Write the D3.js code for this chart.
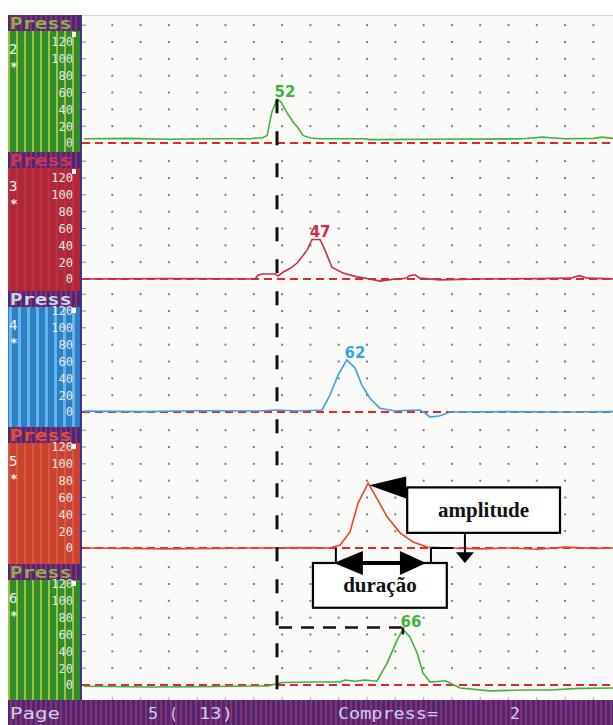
<!DOCTYPE html>
<html>
<head>
<meta charset="utf-8">
<script src="https://cdn.jsdelivr.net/npm/d3@7"></script>
<style>
  body { margin: 0; background: #fff; }
  svg { display: block; }
</style>
</head>
<body>
<div id="chart"></div>
<script>
// channels shown top to bottom
const channels = ["2", "3", "4", "5", "6"];
const yTicks = [0, 20, 40, 60, 80, 100, 120];
const gridRows = [20, 40, 60, 80, 100, 120, 140];
const gridCols = d3.range(1, 19);
const peakLabels = ["52", "47", "62", null, "66"];

// pressure traces: [time (grid units), pressure]
const trace2 = [[0,5],[1.5,5.5],[3,4.5],[4.5,5],[5.9,5],[6.1,6],[6.3,6],[6.47,9],[6.64,37],[6.82,52],[6.96,49],[7.17,36],[7.39,25],[7.56,18],[7.74,9],[8.0,6],[8.35,5],[9.2,5],[9.93,5],[10.1,4],[12,4.5],[15.5,5],[16.2,7],[16.6,6],[17,5],[18,5.5],[18.3,7],[18.8,5]];
const trace3 = [[0,0],[3,0.5],[6.04,0],[6.15,4.5],[6.29,6],[6.75,6],[6.86,3.5],[7.03,8],[7.3,13],[7.53,19],[7.88,34],[8.06,47],[8.34,47],[8.52,34],[8.76,14],[9.15,7],[9.65,2.5],[10.1,0],[10.46,-2.5],[11,0],[11.34,0.5],[11.52,4],[11.7,5],[11.87,1],[12.58,-1],[14,0],[16,0.5],[17.2,1],[17.5,4],[17.8,1],[18.8,0]];
const trace4 = [[0,1],[2,0.5],[4,1.5],[6.22,1.2],[6.75,2.4],[7.63,1.2],[8.41,2.4],[8.69,20],[8.98,44],[9.29,62],[9.58,52],[9.82,32],[10.11,16],[10.46,4.5],[10.99,1.2],[11.5,2],[11.87,2.4],[12.05,-1.2],[12.23,-6],[12.58,-4.5],[12.93,0],[15,0.5],[17,0],[18.8,0.5]];
const trace5 = [[0,0],[3,-1],[6,0],[8,0.5],[8.69,0],[9.05,3.5],[9.4,19],[9.68,53],[10.04,77],[10.35,59],[10.71,37],[11.17,18],[11.63,7],[12.12,1.2],[12.93,0],[14,-1],[15,0],[16,-1.5],[17,1],[18,-0.5],[18.8,0]];
const trace6 = [[0,-1.5],[2.33,-2.4],[4,-2],[6.5,-1],[7,3],[8,3.5],[9.05,3.5],[9.22,6],[9.58,4.5],[9.93,6],[10.35,4.5],[10.71,26],[11.06,53],[11.27,66],[11.52,57],[11.77,38],[11.98,14],[12.23,3.5],[12.6,4.5],[12.76,5],[12.93,2.4],[13.29,-3.5],[14.35,-7],[15.5,-6],[16.47,-6],[17.5,-4],[18.8,-3.5]];
const traces = [trace2, trace3, trace4, trace5, trace6];

const W = 613, H = 725;
const stripX = 8, sepX = 80, plotX = 82, plotTop = 15, plotBottom = 700;
const headTop = [15, 152, 291, 427, 564];
const headH = 16;
const zeroY = [143, 279, 412, 548, 685];
const span120 = 101;

const traceColor = ["#46b03c", "#cc2c50", "#3ea2e0", "#e8452f", "#46b03c"];
const headText = ["#8fb04a", "#d23848", "#c4daf2", "#e25236", "#8fb04a"];
const bodyFill = ["green", "crimson", "blue", "orange", "green"];

const x = d3.scaleLinear().domain([0, 19]).range([84, 84 + 28.3 * 19]);
const yScales = zeroY.map(z => d3.scaleLinear().domain([0, 120]).range([z, z - span120]));

const svg = d3.select("#chart").append("svg").attr("width", W).attr("height", H);
const defs = svg.append("defs");

function stripes(id, base, stripe, w, sw) {
  const p = defs.append("pattern").attr("id", id)
    .attr("patternUnits", "userSpaceOnUse").attr("width", w).attr("height", 10);
  p.append("rect").attr("width", w).attr("height", 10).attr("fill", base);
  p.append("rect").attr("width", sw).attr("height", 10).attr("fill", stripe);
}
stripes("green", "#318c2a", "#9cc63c", 8, 2);
stripes("crimson", "#b02838", "#ba3242", 8, 2);
stripes("blue", "#2e80c4", "#64b4ea", 9, 3);
stripes("orange", "#cb4330", "#d85840", 8, 2);
stripes("head", "#4a2a76", "#8e2f6c", 5, 2);

defs.append("clipPath").attr("id", "plotclip").append("rect")
  .attr("x", plotX).attr("y", plotTop).attr("width", W - plotX).attr("height", plotBottom - plotTop);

svg.append("rect").attr("width", W).attr("height", H).attr("fill", "#fff");
svg.append("rect").attr("x", plotX).attr("y", plotTop)
  .attr("width", W - plotX).attr("height", plotBottom - plotTop).attr("fill", "#fafaf8");
svg.append("line").attr("x1", plotX).attr("x2", W).attr("y1", plotTop + 0.5).attr("y2", plotTop + 0.5)
  .attr("stroke", "#d4d4d4");

// left strip panels
channels.forEach((ch, i) => {
  const top = headTop[i];
  const bottom = i < channels.length - 1 ? headTop[i + 1] : plotBottom;
  const y = yScales[i];
  const g = svg.append("g");
  g.append("rect").attr("x", stripX).attr("y", top).attr("width", sepX - stripX)
    .attr("height", bottom - top).attr("fill", `url(#${bodyFill[i]})`);
  g.append("rect").attr("x", stripX).attr("y", top).attr("width", sepX - stripX)
    .attr("height", headH).attr("fill", "url(#head)");
  g.append("text").attr("x", 10).attr("y", top + 13.5)
    .attr("textLength", 62).attr("lengthAdjust", "spacingAndGlyphs")
    .style("font", "bold 16px 'DejaVu Sans Mono'").attr("fill", headText[i]).text("Press");
  g.append("rect").attr("x", 72).attr("y", top + headH + 1).attr("width", 4).attr("height", 5).attr("fill", "#fff");
  g.append("text").attr("x", 9).attr("y", top + 39)
    .style("font", "14px 'DejaVu Sans Mono'").attr("fill", "#f2f2f2").text(ch);
  g.append("text").attr("x", 10).attr("y", top + 56)
    .style("font", "bold 13px 'DejaVu Sans Mono'").attr("fill", "#f2f2f2").text("*");

  const axis = d3.axisLeft(y).tickValues(yTicks).tickSize(0).tickPadding(0);
  const ag = g.append("g").attr("transform", "translate(73,0)").call(axis);
  ag.select(".domain").remove();
  ag.selectAll("text").style("font", "12px 'DejaVu Sans Mono'").attr("fill", "#e8e8e8");
});

// bottom status bar
svg.append("rect").attr("x", stripX).attr("y", plotBottom).attr("width", W - stripX)
  .attr("height", H - plotBottom).attr("fill", "url(#head)");
const status = [["Page", 10, 50], ["5", 148, 10], ["(", 169, 9], ["13)", 199, 34], ["Compress=", 338, 100], ["2", 510, 10]];
svg.selectAll(".status").data(status).join("text").attr("class", "status")
  .attr("x", d => d[1]).attr("y", 719)
  .attr("textLength", d => d[2]).attr("lengthAdjust", "spacingAndGlyphs")
  .style("font", "15px 'DejaVu Sans Mono'").attr("fill", "#d6cdea").text(d => d[0]);

svg.append("line").attr("x1", sepX + 1).attr("x2", sepX + 1).attr("y1", plotTop).attr("y2", plotBottom)
  .attr("stroke", "#3b3586").attr("stroke-width", 2);

const plot = svg.append("g").attr("clip-path", "url(#plotclip)");

// bottom ticks
plot.selectAll(".btick").data(gridCols).join("line").attr("class", "btick")
  .attr("x1", d => x(d)).attr("x2", d => x(d)).attr("y1", plotBottom - 3).attr("y2", plotBottom)
  .attr("stroke", "#aaa");

// dot grid, edge ticks, zero lines, traces
channels.forEach((ch, i) => {
  const y = yScales[i];
  const pts = [];
  gridRows.forEach(v => gridCols.forEach(k => pts.push([k, v])));
  plot.append("g").selectAll("rect").data(pts).join("rect")
    .attr("x", d => x(d[0]) - 1).attr("y", d => y(d[1]) - 1)
    .attr("width", 2).attr("height", 2).attr("fill", "#7c7c7c");
  plot.append("g").selectAll("line").data(gridRows).join("line")
    .attr("x1", plotX).attr("x2", plotX + 4).attr("y1", d => y(d)).attr("y2", d => y(d))
    .attr("stroke", "#888");
  plot.append("line").attr("x1", plotX).attr("x2", W).attr("y1", y(0)).attr("y2", y(0))
    .attr("stroke", "#e2262a").attr("stroke-width", 2).attr("stroke-dasharray", "8,5");
  const line = d3.line().x(d => x(d[0])).y(d => y(d[1]));
  plot.append("path").datum(traces[i]).attr("d", line)
    .attr("fill", "none").attr("stroke", traceColor[i]).attr("stroke-width", 1.6);
  if (peakLabels[i]) {
    const pk = traces[i].reduce((a, b) => (b[1] > a[1] ? b : a));
    plot.append("text").attr("x", x(pk[0]) + 8).attr("y", y(pk[1]) - 2)
      .attr("text-anchor", "middle").style("font", "bold 15px 'DejaVu Sans'")
      .attr("fill", traceColor[i]).text(peakLabels[i]);
  }
});

// latency markers: from channel 2 peak down to channel 6 peak
const peak = t => t.reduce((a, b) => (b[1] > a[1] ? b : a));
const p2 = peak(trace2), p6 = peak(trace6), p5 = peak(trace5);
const y2 = yScales[0], y5 = yScales[3], y6 = yScales[4];
plot.append("line").attr("x1", x(p2[0])).attr("x2", x(p2[0]))
  .attr("y1", y2(p2[1])).attr("y2", plotBottom - 8)
  .attr("stroke", "#111").attr("stroke-width", 3).attr("stroke-dasharray", "14,18");
plot.append("line").attr("x1", x(p2[0]) + 2).attr("x2", x(p6[0]))
  .attr("y1", y6(p6[1]) - 2).attr("y2", y6(p6[1]) - 2)
  .attr("stroke", "#111").attr("stroke-width", 2.5).attr("stroke-dasharray", "13,9");
plot.append("line").attr("x1", x(p6[0])).attr("x2", x(p6[0]))
  .attr("y1", y6(p6[1]) - 2).attr("y2", y6(p6[1]) + 5)
  .attr("stroke", "#111").attr("stroke-width", 2.5);

// annotations on channel 5 (in channel 5 data units)
const ann = svg.append("g");
const blk = "#000";
const ampBox = [11.42, 16.82, 72, 18];
const durBox = [8.09, 12.82, -17.8, -71];
const durK = [8.9, 12.26];
const downK = 13.46;

function box(b, label) {
  const x0 = x(b[0]), x1 = x(b[1]), yA = y5(b[2]), yB = y5(b[3]);
  ann.append("rect").attr("x", x0).attr("y", yA).attr("width", x1 - x0).attr("height", yB - yA)
    .attr("fill", "#fff").attr("stroke", blk).attr("stroke-width", 2.2);
  ann.append("text").attr("x", (x0 + x1) / 2).attr("y", (yA + yB) / 2 + 7)
    .attr("text-anchor", "middle").style("font", "bold 21px 'Liberation Serif'")
    .attr("fill", "#111").text(label);
}

// duration brackets
durK.forEach(k => {
  ann.append("line").attr("x1", x(k)).attr("x2", x(k)).attr("y1", y5(0)).attr("y2", y5(-17.8))
    .attr("stroke", blk).attr("stroke-width", 2);
});
ann.append("line").attr("x1", x(durK[1])).attr("x2", x(13.05)).attr("y1", y5(0)).attr("y2", y5(0))
  .attr("stroke", blk).attr("stroke-width", 2);

box(durBox, "duração");

// double arrow for duration
const dy = y5(-17.8);
const dl = x(durK[0]) - 2, dr = x(durK[1]) - 5;
ann.append("line").attr("x1", dl + 20).attr("x2", dr - 20).attr("y1", dy).attr("y2", dy)
  .attr("stroke", blk).attr("stroke-width", 4);
ann.append("polygon").attr("points", [[dl, dy], [dl + 29, dy - 12], [dl + 29, dy + 12]].join(" ")).attr("fill", blk);
ann.append("polygon").attr("points", [[dr, dy], [dr - 26, dy - 12], [dr - 26, dy + 12]].join(" ")).attr("fill", blk);

// amplitude box and arrows
box(ampBox, "amplitude");
const tipX = x(p5[0]) + 1, tipY = y5(p5[1]) + 2, baseX = x(ampBox[0]) - 1, baseY = y5(ampBox[2]);
ann.append("polygon").attr("points", [[tipX, tipY], [baseX, baseY - 11], [baseX, baseY + 11]].join(" ")).attr("fill", blk);
const ax = x(downK);
ann.append("line").attr("x1", ax).attr("x2", ax).attr("y1", y5(ampBox[3])).attr("y2", y5(-6))
  .attr("stroke", blk).attr("stroke-width", 2);
ann.append("polygon").attr("points", [[ax, y5(-17.8)], [ax - 9, y5(-5)], [ax + 9, y5(-5)]].join(" ")).attr("fill", blk);
</script>
</body>
</html>
